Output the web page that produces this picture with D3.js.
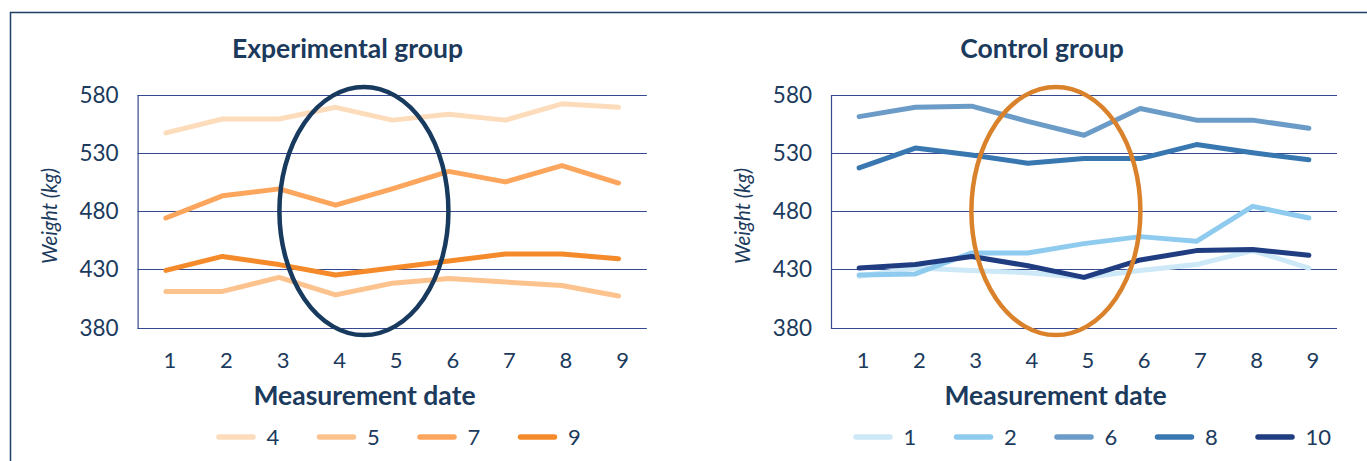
<!DOCTYPE html>
<html>
<head>
<meta charset="utf-8">
<script src="https://cdn.jsdelivr.net/npm/d3@7"></script>
<style>
  body { margin: 0; background: #fff; }
  text { font-family: Lato, "Open Sans", sans-serif; fill: #1b3a5c; }
</style>
</head>
<body>
<script>
var dates = [1, 2, 3, 4, 5, 6, 7, 8, 9];
var yTicks = [380, 430, 480, 530, 580];

// experimental group
var expNames = ["4", "5", "7", "9"];
var exp4 = [547, 559, 559, 569, 558, 563, 558, 572, 569];
var exp5 = [411, 411, 423, 408, 418, 422, 419, 416, 407];
var exp7 = [474, 493, 499, 485, 499, 514, 505, 519, 504];
var exp9 = [429, 441, 434, 425, 431, 437, 443, 443, 439];
var expColors = ["#fddcbc", "#fdc38f", "#fba65c", "#f58a2b"];

// control group
var ctlNames = ["1", "2", "6", "8", "10"];
var ctl1 = [424, 431, 429, 427, 423, 429, 434, 446, 431];
var ctl2 = [425, 426, 444, 444, 452, 458, 454, 484, 474];
var ctl6 = [561, 569, 570, 557, 545, 568, 558, 558, 551];
var ctl8 = [517, 534, 528, 521, 525, 525, 537, 530, 524];
var ctl10 = [431, 434, 441, 433, 423, 438, 446, 447, 442];
var ctlColors = ["#cde8f7", "#8ecbee", "#6b9bc7", "#3877b0", "#1f3d80"];

var w = 1367, h = 461;

var svg = d3.select("body").append("svg")
    .attr("width", w)
    .attr("height", h);

// frame
svg.append("path")
    .attr("d", "M10.5," + h + "V12.5H" + w)
    .style("fill", "none")
    .style("stroke", "#1c3f63")
    .style("stroke-width", 1.5);

function drawPanel(opt) {
    var x = d3.scalePoint()
        .domain(dates)
        .range([opt.left, opt.right])
        .padding(0.5);

    var y = d3.scaleLinear()
        .domain([380, 580])
        .range([327.5, 94.5]);

    var g = svg.append("g");

    // gridlines
    g.selectAll(".grid")
        .data(yTicks)
        .enter()
        .append("line")
        .attr("x1", opt.left)
        .attr("x2", opt.right)
        .attr("y1", function(d){ return Math.round(y(d)) + 0.5; })
        .attr("y2", function(d){ return Math.round(y(d)) + 0.5; })
        .style("stroke", "#34498f")
        .style("stroke-width", 1.2);

    g.append("line")
        .attr("x1", opt.left + 0.5)
        .attr("x2", opt.left + 0.5)
        .attr("y1", Math.round(y(580)))
        .attr("y2", Math.round(y(380)) + 1)
        .style("stroke", "#34498f")
        .style("stroke-width", 1.2);

    // y tick labels
    g.selectAll(".ytick")
        .data(yTicks)
        .enter()
        .append("text")
        .attr("x", opt.left - 19)
        .attr("y", function(d){ return y(d); })
        .attr("dy", "0.36em")
        .attr("text-anchor", "end")
        .style("font-size", "22.5px")
        .text(function(d){ return d; });

    // x tick labels
    g.selectAll(".xtick")
        .data(dates)
        .enter()
        .append("text")
        .attr("x", function(d){ return x(d) + 4; })
        .attr("y", 368)
        .attr("text-anchor", "middle")
        .style("font-size", "22px")
        .text(function(d){ return d; });

    // titles
    g.append("text")
        .attr("x", opt.titleX)
        .attr("y", 58)
        .attr("text-anchor", "middle")
        .style("font-size", "26.5px")
        .style("font-weight", "bold")
        .text(opt.title);

    g.append("text")
        .attr("x", opt.xTitleX)
        .attr("y", 405)
        .attr("text-anchor", "middle")
        .style("font-size", "26.5px")
        .style("font-weight", "bold")
        .text("Measurement date");

    g.append("text")
        .attr("transform", "translate(" + opt.yTitleX + ",216) rotate(-90)")
        .attr("text-anchor", "middle")
        .style("font-size", "20.5px")
        .style("font-style", "italic")
        .text("Weight (kg)");

    // lines
    var line = d3.line()
        .x(function(d, i){ return x(dates[i]); })
        .y(function(d){ return y(d); });

    g.selectAll(".series")
        .data(opt.series)
        .enter()
        .append("path")
        .attr("d", function(d){ return line(d); })
        .style("fill", "none")
        .style("stroke", function(d, i){ return opt.colors[i]; })
        .style("stroke-width", 5)
        .style("stroke-linejoin", "round")
        .style("stroke-linecap", "round");

    // highlight ellipse around dates 4-5
    g.append("ellipse")
        .attr("cx", (x(4) + x(5)) / 2)
        .attr("cy", y(480))
        .attr("rx", 84.5)
        .attr("ry", (y(373.5) - y(586.5)) / 2)
        .style("fill", "none")
        .style("stroke", opt.ringColor)
        .style("stroke-width", 4.5);

    // legend
    var leg = g.selectAll(".legend")
        .data(opt.names)
        .enter()
        .append("g")
        .attr("transform", function(d, i){
            return "translate(" + (opt.legendX + i * opt.legendStep) + ",437)";
        });

    leg.append("line")
        .attr("x1", 2.5)
        .attr("x2", 36.5)
        .style("stroke", function(d, i){ return opt.colors[i]; })
        .style("stroke-width", 5.5)
        .style("stroke-linecap", "round");

    leg.append("text")
        .attr("x", 50)
        .attr("dy", "0.36em")
        .style("font-size", "22px")
        .text(function(d){ return d; });
}

drawPanel({
    left: 137.6, right: 646.8,
    title: "Experimental group", titleX: 347.5,
    xTitleX: 364.5, yTitleX: 57,
    series: [exp4, exp5, exp7, exp9],
    colors: expColors,
    names: expNames,
    ringColor: "#173a5e",
    legendX: 216.5, legendStep: 100.5
});

drawPanel({
    left: 831, right: 1337,
    title: "Control group", titleX: 1042,
    xTitleX: 1055.5, yTitleX: 750,
    series: [ctl1, ctl2, ctl6, ctl8, ctl10],
    colors: ctlColors,
    names: ctlNames,
    ringColor: "#d9822b",
    legendX: 853.5, legendStep: 100.5
});
</script>
</body>
</html>
